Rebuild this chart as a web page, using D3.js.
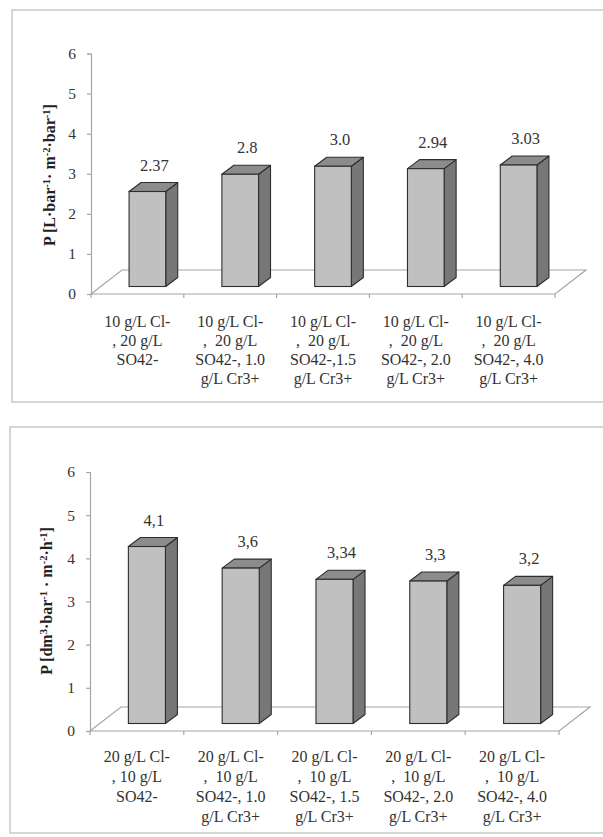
<!DOCTYPE html>
<html>
<head>
<meta charset="utf-8">
<script src="https://cdn.jsdelivr.net/npm/d3@7"></script>
<style>
  html, body { margin: 0; padding: 0; background: #fff; }
  svg { display: block; }
</style>
</head>
<body>
<svg id="chart" width="603" height="837"></svg>
<script>
// Permeability of the membrane for the two salt compositions
const categoriesTop = [
  ["10 g/L Cl-", ", 20 g/L", "SO42-"],
  ["10 g/L Cl-", ",  20 g/L", "SO42-, 1.0", "g/L Cr3+"],
  ["10 g/L Cl-", ",  20 g/L", "SO42-,1.5", "g/L Cr3+"],
  ["10 g/L Cl-", ",  20 g/L", "SO42-, 2.0", "g/L Cr3+"],
  ["10 g/L Cl-", ",  20 g/L", "SO42-, 4.0", "g/L Cr3+"]
];
const valuesTop = [2.37, 2.8, 3.0, 2.94, 3.03];
const labelsTop = ["2.37", "2.8", "3.0", "2.94", "3.03"];

const categoriesBottom = [
  ["20 g/L Cl-", ", 10 g/L", "SO42-"],
  ["20 g/L Cl-", ",  10 g/L", "SO42-, 1.0", "g/L Cr3+"],
  ["20 g/L Cl-", ",  10 g/L", "SO42-, 1.5", "g/L Cr3+"],
  ["20 g/L Cl-", ",  10 g/L", "SO42-, 2.0", "g/L Cr3+"],
  ["20 g/L Cl-", ",  10 g/L", "SO42-, 4.0", "g/L Cr3+"]
];
const valuesBottom = [4.1, 3.6, 3.34, 3.3, 3.2];
const labelsBottom = ["4,1", "3,6", "3,34", "3,3", "3,2"];

const yTicks = [0, 1, 2, 3, 4, 5, 6];

// axis titles: [text, superscript?]
const titleTop = [["P [L·bar", false], ["-1", true], ["· m", false], ["-2", true], ["·bar", false], ["-1", true], ["]", false]];
const titleBottom = [["P [dm", false], ["3", true], ["·bar", false], ["-1", true], [" · m", false], ["-2", true], ["·h", false], ["-1", true], ["]", false]];

const FONT = "'Liberation Serif', 'Times New Roman', Tinos, 'DejaVu Serif', serif";

const svg = d3.select("#chart").attr("font-family", FONT);

// panel frames
svg.append("rect").attr("x", 12).attr("y", 10).attr("width", 620).attr("height", 392)
  .attr("fill", "none").attr("stroke", "#c8c8c8").attr("stroke-width", 1.5);
svg.append("rect").attr("x", 10).attr("y", 427).attr("width", 620).attr("height", 406)
  .attr("fill", "none").attr("stroke", "#c8c8c8").attr("stroke-width", 1.5);

function drawChart(o) {
  const g = svg.append("g");
  const floorDx = 31, floorDy = -24;     // depth of the floor plane
  const baseDx = 10, baseDy = -7.5;      // where the bar row sits in the depth
  const barDx = 12, barDy = -9;          // depth of each column

  const x = d3.scaleBand().domain(d3.range(o.values.length)).range([o.x0, o.x1]).paddingInner(0).paddingOuter(0);
  const y = d3.scaleLinear().domain([0, 6]).range([o.y0, o.y6]);
  const barW = x.step() * 0.395;
  const grid = "#a6a6a6";

  // floor
  const y0 = y(0);
  const floorPts = [[o.x0, y0], [o.x1, y0], [o.x1 + floorDx, y0 + floorDy], [o.x0 + floorDx, y0 + floorDy], [o.x0, y0]];
  g.append("path").attr("d", d3.line()(floorPts)).attr("fill", "none").attr("stroke", grid).attr("stroke-width", 1.2);

  // category boundary ticks
  const bounds = d3.range(o.values.length + 1).map(i => o.x0 + i * x.step());
  g.selectAll(".xt").data(bounds).join("line")
    .attr("x1", d => d).attr("x2", d => d).attr("y1", y0).attr("y2", y0 + 4)
    .attr("stroke", grid).attr("stroke-width", 1.2);

  // y axis
  const ax = g.append("g").attr("transform", `translate(${o.x0},0)`)
    .call(d3.axisLeft(y).tickValues(yTicks).tickSize(4).tickPadding(11).tickFormat(d3.format("d")));
  ax.attr("font-family", FONT).attr("font-size", 15);
  ax.select(".domain").attr("stroke", grid).attr("stroke-width", 1.2);
  ax.selectAll(".tick line").attr("stroke", grid).attr("stroke-width", 1.2);
  ax.selectAll(".tick text").style("font-family", FONT).style("font-size", "15.5px").attr("fill", "#333");

  // columns
  const bars = g.selectAll(".bar").data(o.values).join("g");
  bars.each(function (v, i) {
    const b = d3.select(this);
    const xl = x(i) + (x.step() - barW) / 2 + baseDx;
    const xr = xl + barW;
    const yb = y(0) + baseDy;
    const yt = y(v) + baseDy;
    const stroke = "#2e2e2e";
    // side face
    b.append("path").attr("d", d3.line()([[xr, yb], [xr + barDx, yb + barDy], [xr + barDx, yt + barDy], [xr, yt]]) + "Z")
      .attr("fill", "#777777").attr("stroke", stroke).attr("stroke-width", 1.1).attr("stroke-linejoin", "round");
    // top face
    b.append("path").attr("d", d3.line()([[xl, yt], [xr, yt], [xr + barDx, yt + barDy], [xl + barDx, yt + barDy]]) + "Z")
      .attr("fill", "#8c8c8c").attr("stroke", stroke).attr("stroke-width", 1.1).attr("stroke-linejoin", "round");
    // front face
    b.append("rect").attr("x", xl).attr("y", yt).attr("width", barW).attr("height", yb - yt)
      .attr("fill", "#c0c0c0").attr("stroke", stroke).attr("stroke-width", 1.1);
    // value label
    b.append("text").attr("x", (xl + xr) / 2 + 7).attr("y", yt - 21)
      .attr("text-anchor", "middle").style("font-family", FONT).style("font-size", "16.5px")
      .attr("fill", "#333").text(o.labels[i]);
  });

  // category labels
  o.categories.forEach((lines, i) => {
    const t = g.append("text").attr("text-anchor", "middle")
      .style("font-family", FONT).style("font-size", "16px").attr("fill", "#333")
      .attr("x", x(i) + x.step() / 2).attr("y", y0 + o.labelTop);
    lines.forEach((ln, k) => {
      t.append("tspan").attr("x", x(i) + x.step() / 2).attr("dy", k === 0 ? 0 : o.lineH)
        .attr("xml:space", "preserve").text(ln);
    });
  });

  // y axis title
  const tt = g.append("text").attr("transform", `translate(${o.titleX},${o.titleY}) rotate(-90)`)
    .attr("text-anchor", "middle").style("font-family", FONT).style("font-size", "16px")
    .style("font-weight", "bold").attr("fill", "#222");
  o.title.forEach(([s, sup]) => {
    const sp = tt.append("tspan").text(s);
    if (sup) sp.attr("baseline-shift", "super").style("font-size", "10.5px");
  });
}

drawChart({
  values: valuesTop, labels: labelsTop, categories: categoriesTop,
  x0: 91, x1: 555, y0: 294, y6: 53.5,
  labelTop: 33, lineH: 19,
  title: titleTop, titleX: 55, titleY: 175
});

drawChart({
  values: valuesBottom, labels: labelsBottom, categories: categoriesBottom,
  x0: 90, x1: 559, y0: 731, y6: 472,
  labelTop: 31, lineH: 20,
  title: titleBottom, titleX: 52, titleY: 601
});
</script>
</body>
</html>
